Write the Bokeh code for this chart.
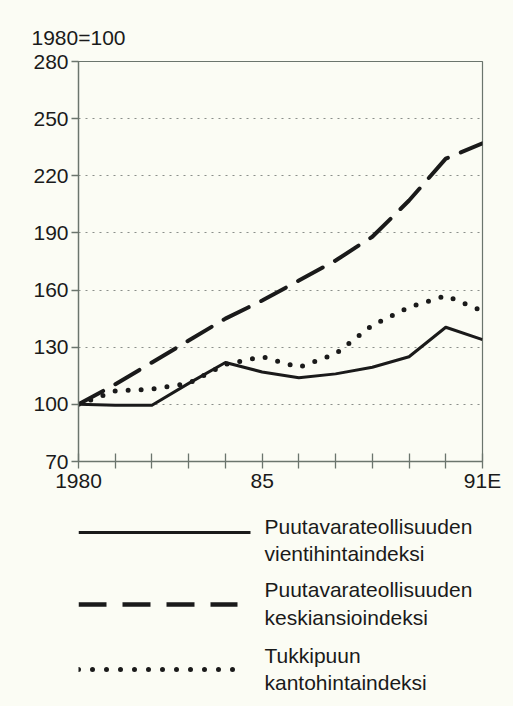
from bokeh.plotting import figure
from bokeh.models import Range1d, FixedTicker, Title
from bokeh.layouts import column
from bokeh.embed import file_html
from bokeh.resources import INLINE
from bokeh.core.properties import value

# ---- data ----
years = [1980, 1981, 1982, 1983, 1984, 1985, 1986, 1987, 1988, 1989, 1990, 1991]
vientihinta = [100, 99.5, 99.5, 111, 122, 117, 114, 116, 119.5, 125, 140.5, 134]
keskiansio = [100, 110.5, 122, 133.5, 145, 154.5, 165, 175.5, 188, 207, 229, 237]
kantohinta = [100, 107, 108, 111, 121, 125, 119.5, 126.5, 141.5, 151, 157, 149]
y_ticks = [70, 100, 130, 160, 190, 220, 250, 280]
grid_ticks = [100, 130, 160, 190, 220, 250]
x_labels = {1980: "1980", 1985: "85", 1991: "91E"}
legend_labels = [
    ["Puutavarateollisuuden", "vientihintaindeksi"],
    ["Puutavarateollisuuden", "keskiansioindeksi"],
    ["Tukkipuun", "kantohintaindeksi"],
]

BG = "#fbfcf4"
INK = "#1a1a1a"
AX = "#6b756d"
FONT = "Liberation Sans"
FS = "21px"
W = 513

p = figure(width=W, height=498, x_range=Range1d(1980, 1991), y_range=Range1d(70, 280),
           output_backend="svg", toolbar_location=None,
           min_border_left=78, min_border_right=31, min_border_top=61, min_border_bottom=37,
           background_fill_color=BG, border_fill_color=BG,
           outline_line_color=AX, outline_line_width=1.2)

t = Title(text="1980=100", align="left", offset=-47, text_font=FONT, text_font_size=FS,
          text_font_style="normal", text_color=INK, standoff=26)
p.add_layout(t, "above")

# axes
p.yaxis.ticker = FixedTicker(ticks=y_ticks)
p.xaxis.ticker = FixedTicker(ticks=years)
p.xaxis.major_label_overrides = {y: x_labels.get(y, "") for y in years}
for ax in (p.xaxis[0], p.yaxis[0]):
    ax.axis_line_color = AX
    ax.axis_line_width = 1.3
    ax.major_tick_line_color = AX
    ax.major_tick_line_width = 1.3
    ax.minor_tick_line_color = None
    ax.major_label_text_font = FONT
    ax.major_label_text_font_size = FS
    ax.major_label_text_color = INK
p.yaxis.major_tick_in = 0
p.yaxis.major_tick_out = 7
p.yaxis.major_label_standoff = 3
p.xaxis.major_tick_in = 8
p.xaxis.major_tick_out = 7
p.xaxis.major_label_standoff = 0

p.xgrid.grid_line_color = None
p.ygrid.ticker = FixedTicker(ticks=grid_ticks)
p.ygrid.grid_line_color = "#8a8f8a"
p.ygrid.grid_line_dash = "2 5"
p.ygrid.grid_line_width = 1

# series
p.line(years, vientihinta, line_color=INK, line_width=3, line_join="round")
p.line(years, keskiansio, line_color=INK, line_width=4, line_dash="28 14", line_cap="round")
p.line(years, kantohinta, line_color=INK, line_width=5, line_dash="0 13", line_cap="round")

# legend panel (page-pixel coordinates; frame aligned with the chart frame)
lg = figure(width=W, height=208, x_range=Range1d(78, 482), y_range=Range1d(706, 498),
            output_backend="svg", toolbar_location=None,
            min_border_left=78, min_border_right=31, min_border_top=0, min_border_bottom=0,
            background_fill_color=BG, border_fill_color=BG, outline_line_color=None)
lg.axis.visible = False
lg.grid.visible = False

sample_y = [532, 604, 669]
sample_x1 = [250, 237, 238]
text_y = [(526, 553), (589, 617), (655, 682)]
styles = [dict(line_width=3, line_dash="solid", line_cap="butt"),
          dict(line_width=4.5, line_dash="28 16", line_cap="butt"),
          dict(line_width=5, line_dash="0 14", line_cap="round")]
for i in range(3):
    lg.line([78, sample_x1[i]], [sample_y[i], sample_y[i]], line_color=INK, **styles[i])
    lg.text([264, 264], list(text_y[i]), text=legend_labels[i],
            text_font=value(FONT), text_font_size=FS, text_color=INK,
            text_baseline="middle", text_align="left")

layout = column(p, lg, spacing=0, styles={"background-color": BG})
open("out.html", "w").write(file_html(layout, INLINE))
